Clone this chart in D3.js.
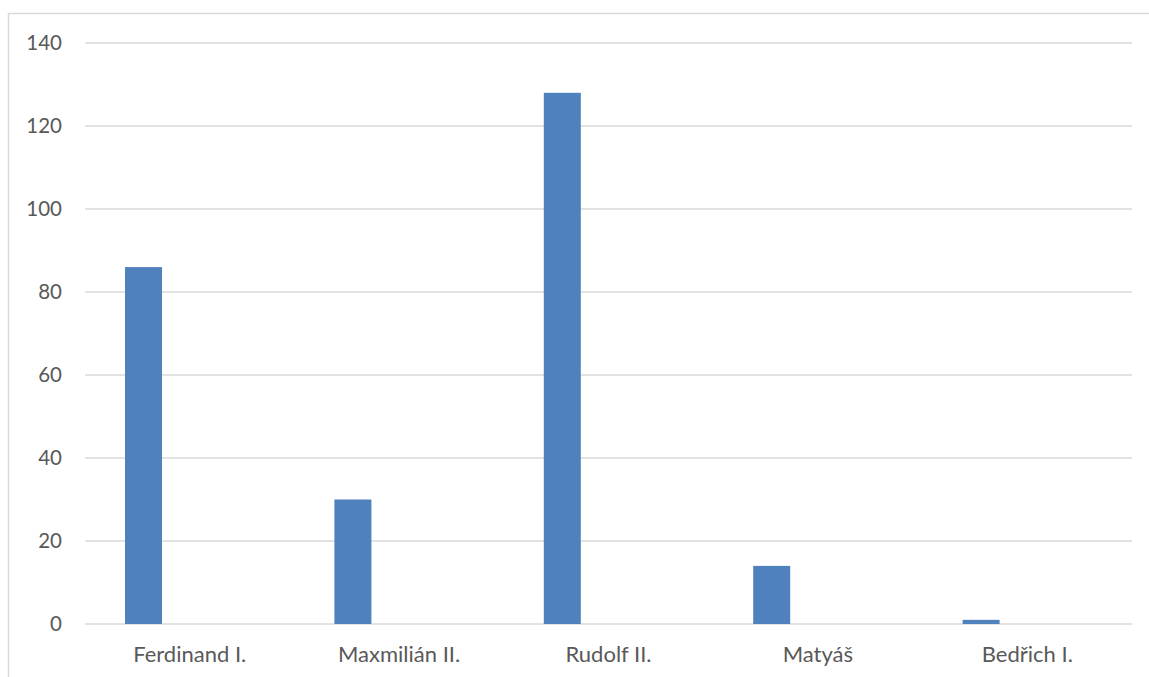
<!DOCTYPE html>
<html>
<head>
<meta charset="utf-8">
<script src="https://cdn.jsdelivr.net/npm/d3@7"></script>
<style>
  html, body { margin: 0; padding: 0; background: #fff; }
  svg { display: block; }
  text { font-family: Lato, "Open Sans", sans-serif; fill: #595959; }
</style>
</head>
<body>
<svg id="chart" width="1149" height="677"></svg>
<script>
const categories = ["Ferdinand I.", "Maxmilián II.", "Rudolf II.", "Matyáš", "Bedřich I."];
const values = [86, 30, 128, 14, 1];
const yTicks = [0, 20, 40, 60, 80, 100, 120, 140];

const W = 1149, H = 677;
const svg = d3.select("#chart");

// outer border
svg.append("rect")
  .attr("x", 8.5).attr("y", 13.5)
  .attr("width", W + 10).attr("height", H + 10)
  .attr("fill", "none").attr("stroke", "#d9d9d9").attr("stroke-width", 1.5);

const plot = { left: 85, right: 1132, top: 43, bottom: 624 };

const x = d3.scaleBand().domain(categories).range([plot.left, plot.right]).padding(0);
const y = d3.scaleLinear().domain([0, 140]).range([plot.bottom, plot.top]);

// gridlines
svg.append("g").selectAll("line").data(yTicks).join("line")
  .attr("x1", plot.left).attr("x2", plot.right)
  .attr("y1", d => y(d)).attr("y2", d => y(d))
  .attr("stroke", "#d9d9d9").attr("stroke-width", 1.5);

// y labels
const yAxis = d3.axisLeft(y).tickValues(yTicks).tickSize(0).tickPadding(0);
const gy = svg.append("g").attr("transform", "translate(62,0)").call(yAxis);
gy.select(".domain").remove();
gy.selectAll("text").attr("font-size", 20.5).attr("font-family", "Lato, 'Open Sans', sans-serif").attr("fill", "#595959");

// bars
const offFrac = 40 / 209.4, wFrac = 37 / 209.4;
svg.append("g").selectAll("rect").data(values).join("rect")
  .attr("x", (d, i) => x(categories[i]) + x.bandwidth() * offFrac)
  .attr("width", x.bandwidth() * wFrac)
  .attr("y", d => y(d))
  .attr("height", d => y(0) - y(d))
  .attr("fill", "#4f81bd");

// x labels
const xAxis = d3.axisBottom(x).tickSize(0).tickPadding(0);
const gx = svg.append("g").attr("transform", `translate(0,${plot.bottom})`).call(xAxis);
gx.select(".domain").remove();
gx.selectAll("text").attr("font-size", 22).attr("font-family", "Lato, 'Open Sans', sans-serif")
  .attr("fill", "#595959").attr("dy", null).attr("y", 38);
</script>
</body>
</html>
